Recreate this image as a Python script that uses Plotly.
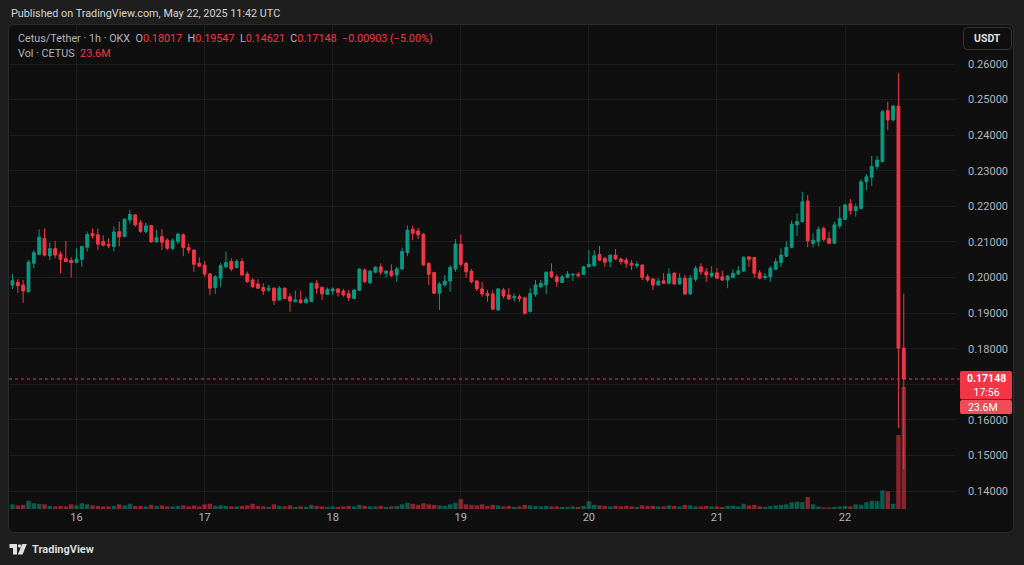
import plotly.graph_objects as go
import pandas as pd

# ---------------- data ----------------
start_time = "2025-05-15 12:00"
opens = [
    0.1979, 0.1987, 0.1979, 0.1960, 0.2040, 0.2065, 0.2110, 0.2061, 0.2081, 0.2066,
    0.2053, 0.2048, 0.2042, 0.2051, 0.2085, 0.2124, 0.2120, 0.2101, 0.2093, 0.2087,
    0.2129, 0.2115, 0.2162, 0.2176, 0.2154, 0.2129, 0.2146, 0.2100, 0.2115, 0.2105,
    0.2082, 0.2101, 0.2120, 0.2084, 0.2077, 0.2040, 0.2035, 0.2010, 0.1972, 0.1998,
    0.2030, 0.2045, 0.2028, 0.2045, 0.2010, 0.1993, 0.1982, 0.1972, 0.1965, 0.1970,
    0.1937, 0.1970, 0.1946, 0.1932, 0.1937, 0.1929, 0.1932, 0.1984, 0.1972, 0.1953,
    0.1962, 0.1968, 0.1962, 0.1955, 0.1941, 0.1964, 0.2021, 0.1985, 0.2015, 0.2030,
    0.2012, 0.2018, 0.2007, 0.2024, 0.2070, 0.2136, 0.2131, 0.2122, 0.2040, 0.2014,
    0.1956, 0.1979, 0.1990, 0.2024, 0.2094, 0.2040, 0.2018, 0.1990, 0.1968, 0.1955,
    0.1954, 0.1909, 0.1965, 0.1951, 0.1943, 0.1946, 0.1943, 0.1904, 0.1953, 0.1974,
    0.1979, 0.2016, 0.2002, 0.1986, 0.2000, 0.2007, 0.2009, 0.2009, 0.2030, 0.2033,
    0.2065, 0.2054, 0.2045, 0.2063, 0.2052, 0.2049, 0.2040, 0.2033, 0.2035, 0.2002,
    0.1996, 0.1979, 0.1991, 0.1984, 0.2012, 0.1982, 0.1998, 0.1954, 0.1995, 0.2030,
    0.2016, 0.2004, 0.2013, 0.2002, 0.1993, 0.2000, 0.2010, 0.2018, 0.2058, 0.2056,
    0.2013, 0.2000, 0.2002, 0.2023, 0.2042, 0.2060, 0.2085, 0.2148, 0.2157, 0.2215,
    0.2096, 0.2101, 0.2138, 0.2110, 0.2096, 0.2145, 0.2163, 0.2207, 0.2188, 0.2194,
    0.2269, 0.2282, 0.2312, 0.2326, 0.2469, 0.2443, 0.2482, 0.18017,
]
highs = [
    0.2010, 0.1995, 0.1993, 0.2049, 0.2077, 0.2135, 0.2138, 0.2098, 0.2103, 0.2073,
    0.2103, 0.2057, 0.2082, 0.2089, 0.2129, 0.2138, 0.2138, 0.2119, 0.2110, 0.2143,
    0.2157, 0.2166, 0.2190, 0.2179, 0.2162, 0.2154, 0.2148, 0.2134, 0.2136, 0.2110,
    0.2110, 0.2126, 0.2124, 0.2096, 0.2079, 0.2057, 0.2046, 0.2012, 0.2007, 0.2040,
    0.2073, 0.2054, 0.2051, 0.2054, 0.2017, 0.1998, 0.1995, 0.1984, 0.1979, 0.1972,
    0.1976, 0.1972, 0.1956, 0.1963, 0.1963, 0.1946, 0.1985, 0.1993, 0.1976, 0.1972,
    0.1972, 0.1971, 0.1968, 0.1965, 0.1968, 0.2026, 0.2026, 0.2021, 0.2032, 0.2040,
    0.2021, 0.2037, 0.2030, 0.2084, 0.2146, 0.2146, 0.2140, 0.2124, 0.2042, 0.2016,
    0.1988, 0.2007, 0.2035, 0.2108, 0.2121, 0.2044, 0.2024, 0.1993, 0.1988, 0.1965,
    0.1965, 0.1970, 0.1971, 0.1970, 0.1955, 0.1953, 0.1946, 0.1970, 0.1993, 0.1993,
    0.2016, 0.2040, 0.2009, 0.2007, 0.2018, 0.2012, 0.2015, 0.2033, 0.2077, 0.2077,
    0.2089, 0.2058, 0.2065, 0.2080, 0.2056, 0.2056, 0.2049, 0.2046, 0.2037, 0.2009,
    0.1998, 0.1998, 0.2012, 0.2026, 0.2016, 0.2012, 0.2007, 0.2007, 0.2032, 0.2040,
    0.2026, 0.2032, 0.2026, 0.2019, 0.2007, 0.2023, 0.2032, 0.2060, 0.2060, 0.2058,
    0.2021, 0.2012, 0.2032, 0.2054, 0.2082, 0.2101, 0.2160, 0.2180, 0.2241, 0.2232,
    0.2124, 0.2143, 0.2143, 0.2129, 0.2157, 0.2199, 0.2208, 0.2220, 0.2208, 0.2276,
    0.2291, 0.2342, 0.2342, 0.2471, 0.2494, 0.2485, 0.2575, 0.19547,
]
lows = [
    0.1967, 0.1957, 0.1929, 0.1958, 0.2026, 0.2063, 0.2059, 0.2049, 0.2054, 0.2012,
    0.2044, 0.2000, 0.2040, 0.2030, 0.2073, 0.2110, 0.2077, 0.2087, 0.2082, 0.2073,
    0.2087, 0.2113, 0.2152, 0.2143, 0.2126, 0.2124, 0.2098, 0.2098, 0.2077, 0.2077,
    0.2077, 0.2094, 0.2060, 0.2068, 0.2016, 0.2030, 0.2002, 0.1951, 0.1954, 0.1974,
    0.2026, 0.2018, 0.2026, 0.2004, 0.1985, 0.1970, 0.1967, 0.1951, 0.1960, 0.1923,
    0.1935, 0.1939, 0.1904, 0.1930, 0.1927, 0.1927, 0.1931, 0.1954, 0.1937, 0.1951,
    0.1951, 0.1946, 0.1946, 0.1934, 0.1940, 0.1962, 0.1984, 0.1982, 0.2012, 0.2007,
    0.2000, 0.2002, 0.1988, 0.2021, 0.2060, 0.2105, 0.2108, 0.2033, 0.1979, 0.1953,
    0.1909, 0.1974, 0.1960, 0.2016, 0.2030, 0.1999, 0.1984, 0.1962, 0.1946, 0.1932,
    0.1909, 0.1906, 0.1941, 0.1937, 0.1932, 0.1932, 0.1896, 0.1902, 0.1946, 0.1970,
    0.1953, 0.1998, 0.1974, 0.1984, 0.1998, 0.1990, 0.2000, 0.2007, 0.2029, 0.2030,
    0.2046, 0.2030, 0.2028, 0.2049, 0.2037, 0.2028, 0.2021, 0.2026, 0.1993, 0.1988,
    0.1965, 0.1977, 0.1982, 0.1982, 0.1979, 0.1979, 0.1951, 0.1951, 0.1988, 0.2007,
    0.1988, 0.2000, 0.1995, 0.1991, 0.1970, 0.1998, 0.2007, 0.2016, 0.2030, 0.2000,
    0.1995, 0.1993, 0.1988, 0.2021, 0.2030, 0.2058, 0.2082, 0.2117, 0.2154, 0.2085,
    0.2085, 0.2087, 0.2101, 0.2094, 0.2094, 0.2138, 0.2162, 0.2176, 0.2171, 0.2192,
    0.2246, 0.2257, 0.2304, 0.2323, 0.2415, 0.2438, 0.1577, 0.14621,
]
closes = [
    0.1991, 0.1977, 0.1962, 0.2043, 0.2070, 0.2113, 0.2063, 0.2081, 0.2063, 0.2051,
    0.2045, 0.2042, 0.2052, 0.2087, 0.2121, 0.2117, 0.2094, 0.2091, 0.2089, 0.2128,
    0.2114, 0.2164, 0.2177, 0.2148, 0.2129, 0.2145, 0.2100, 0.2112, 0.2099, 0.2082,
    0.2103, 0.2122, 0.2084, 0.2077, 0.2037, 0.2032, 0.2010, 0.1970, 0.2002, 0.2033,
    0.2042, 0.2024, 0.2045, 0.2007, 0.1988, 0.1974, 0.1970, 0.1962, 0.1970, 0.1935,
    0.1970, 0.1941, 0.1934, 0.1937, 0.1929, 0.1939, 0.1984, 0.1970, 0.1954, 0.1967,
    0.1968, 0.1958, 0.1951, 0.1943, 0.1965, 0.2024, 0.1988, 0.2018, 0.2029, 0.2015,
    0.2018, 0.2005, 0.2024, 0.2073, 0.2133, 0.2124, 0.2120, 0.2035, 0.2009, 0.1956,
    0.1982, 0.1990, 0.2028, 0.2094, 0.2037, 0.2016, 0.1988, 0.1968, 0.1954, 0.1949,
    0.1911, 0.1968, 0.1948, 0.1940, 0.1946, 0.1941, 0.1899, 0.1955, 0.1979, 0.1984,
    0.2015, 0.2002, 0.1988, 0.2002, 0.2010, 0.2009, 0.2005, 0.2030, 0.2037, 0.2061,
    0.2049, 0.2043, 0.2063, 0.2052, 0.2045, 0.2040, 0.2035, 0.2037, 0.2000, 0.1993,
    0.1979, 0.1990, 0.1984, 0.2010, 0.1982, 0.1998, 0.1954, 0.1998, 0.2026, 0.2016,
    0.2007, 0.2012, 0.1998, 0.1993, 0.2004, 0.2012, 0.2019, 0.2057, 0.2051, 0.2012,
    0.1998, 0.2004, 0.2026, 0.2044, 0.2063, 0.2085, 0.2150, 0.2157, 0.2213, 0.2103,
    0.2105, 0.2135, 0.2107, 0.2096, 0.2148, 0.2166, 0.2204, 0.2188, 0.2199, 0.2269,
    0.2283, 0.2312, 0.2330, 0.2466, 0.2443, 0.2482, 0.18017, 0.17148,
]
volume_m = [
    0.9, 0.7, 0.8, 1.6, 1.1, 1.0, 0.9, 0.6, 0.5, 0.6, 0.5, 0.9,
    0.7, 1.1, 0.9, 0.7, 0.6, 0.5, 0.5, 0.6, 0.9, 0.7, 1.0, 0.6,
    0.6, 0.5, 0.8, 0.6, 0.7, 0.5, 0.5, 0.6, 0.7, 0.5, 0.7, 0.5,
    0.9, 1.0, 0.6, 0.7, 0.6, 0.5, 0.5, 0.6, 0.7, 1.0, 0.6, 0.5,
    0.4, 0.9, 0.6, 0.5, 0.7, 0.4, 0.5, 0.4, 0.8, 0.6, 0.5, 0.4,
    0.5, 0.4, 0.5, 0.6, 0.5, 0.8, 0.6, 0.5, 0.5, 0.6, 0.4, 0.5,
    0.6, 0.9, 1.2, 1.0, 0.8, 1.1, 0.9, 0.8, 0.7, 0.6, 0.9, 1.2,
    1.9, 0.9, 0.8, 0.7, 0.9, 0.6, 0.8, 0.7, 0.5, 0.6, 0.4, 0.5,
    0.8, 0.7, 0.6, 0.5, 0.6, 0.5, 0.5, 0.4, 0.4, 0.5, 0.4, 0.6,
    1.5, 0.8, 0.7, 0.6, 0.5, 0.6, 0.5, 0.6, 0.5, 0.4, 0.7, 0.6,
    0.6, 0.5, 0.5, 0.7, 0.6, 0.5, 0.8, 0.7, 0.5, 0.5, 0.6, 0.5,
    0.5, 0.4, 0.6, 0.6, 0.5, 1.0, 0.7, 0.8, 0.5, 0.4, 0.6, 0.7,
    0.8, 0.9, 1.3, 1.4, 1.3, 2.3, 0.9, 0.5, 0.3, 0.3, 0.4, 0.5,
    0.6, 0.5, 0.9, 0.8, 1.3, 1.6, 1.5, 3.6, 3.4, 1.0, 14.3, 23.6,
]
# 0.17000 is hidden behind the last-price label in the reference, so its text is blank
price_ticks = [0.14, 0.15, 0.16, 0.17, 0.18, 0.19, 0.20, 0.21, 0.22, 0.23, 0.24, 0.25, 0.26]
price_tick_labels = ["0.14000", "0.15000", "0.16000", "", "0.18000", "0.19000", "0.20000",
                     "0.21000", "0.22000", "0.23000", "0.24000", "0.25000", "0.26000"]
day_ticks = ["2025-05-16", "2025-05-17", "2025-05-18", "2025-05-19", "2025-05-20", "2025-05-21", "2025-05-22"]
day_labels = ["16", "17", "18", "19", "20", "21", "22"]
last_price = 0.17148
last_price_label = "0.17148"
countdown_label = "17:56"
last_volume_label = "23.6M"
header_text = "Published on TradingView.com, May 22, 2025 11:42 UTC"

# ---------------- styling ----------------
W, H = 1024, 565
GREEN = "#089981"
RED = "#f23645"
VGREEN = "rgba(8,153,129,0.55)"
VRED = "rgba(242,54,69,0.55)"
OUTER = "#1e1e1e"
PANEL = "#0f0f0f"
GRID = "#1d1d1d"
TXT = "#b2b5be"
FONT = "Roboto"


def px(x):
    return x / W


def py(y):
    return 1 - y / H


def rrect(x0, y0, x1, y1, r):
    X0, X1 = px(x0), px(x1)
    Y0, Y1 = py(y0), py(y1)
    rx, ry = r / W, r / H
    return (f"M{X0+rx},{Y0} L{X1-rx},{Y0} Q{X1},{Y0} {X1},{Y0-ry} "
            f"L{X1},{Y1+ry} Q{X1},{Y1} {X1-rx},{Y1} L{X0+rx},{Y1} "
            f"Q{X0},{Y1} {X0},{Y1+ry} L{X0},{Y0-ry} Q{X0},{Y0} {X0+rx},{Y0} Z")


def poly(points):
    return "M" + " L".join(f"{px(a)},{py(b)}" for a, b in points) + " Z"


times = pd.date_range(start_time, periods=len(closes), freq="h")
vol_colors = [VGREEN if c >= o else VRED for o, c in zip(opens, closes)]

fig = go.Figure()
fig.add_trace(go.Bar(
    x=times, y=volume_m, yaxis="y2", marker=dict(color=vol_colors, line=dict(width=0)),
    width=0.82 * 3600 * 1000, hoverinfo="skip", showlegend=False,
))
fig.add_trace(go.Candlestick(
    x=times, open=opens, high=highs, low=lows, close=closes,
    increasing=dict(line=dict(color=GREEN, width=1), fillcolor=GREEN),
    decreasing=dict(line=dict(color=RED, width=1), fillcolor=RED),
    whiskerwidth=0, showlegend=False,
))

t0 = pd.Timestamp(start_time)
x_range = [t0 - pd.Timedelta(hours=0.65), t0 + pd.Timedelta(hours=176.6)]

fig.update_layout(
    width=W, height=H,
    margin=dict(l=0, r=0, t=0, b=0),
    paper_bgcolor=OUTER, plot_bgcolor="rgba(0,0,0,0)",
    font=dict(family=FONT, color=TXT),
    showlegend=False, boxgap=0.25,
    xaxis=dict(
        domain=[px(9), px(955)], range=x_range, type="date",
        tickvals=day_ticks, ticktext=day_labels,
        showgrid=True, gridcolor=GRID, gridwidth=1,
        zeroline=False, showline=False, ticks="",
        tickfont=dict(size=11, color=TXT, family=FONT),
        rangeslider=dict(visible=False), fixedrange=True,
    ),
    yaxis=dict(
        domain=[py(509), py(26)], range=[0.13494, 0.27069], side="right",
        tickvals=price_ticks, ticktext=price_tick_labels,
        showgrid=True, gridcolor=GRID, gridwidth=1,
        zeroline=False, showline=False, ticks="",
        tickfont=dict(size=11, color=TXT, family=FONT),
        ticklabelstandoff=12,
    ),
    yaxis2=dict(
        overlaying="y", range=[0, 93.4], visible=False, showgrid=False,
    ),
)

shapes = [
    dict(type="path", xref="paper", yref="paper", path=rrect(8.5, 24.5, 1013.5, 532.5, 6),
         fillcolor=PANEL, line=dict(color="#2b2b2b", width=1), layer="below"),
    dict(type="line", xref="paper", yref="y", x0=px(9), x1=px(960), y0=last_price, y1=last_price,
         line=dict(color=RED, width=1, dash="dot"), layer="above"),
    dict(type="path", xref="paper", yref="paper", path=rrect(963.5, 27.5, 1011.5, 49.5, 4),
         fillcolor="rgba(0,0,0,0)", line=dict(color="#363636", width=1)),
    dict(type="path", xref="paper", yref="paper", path=rrect(960, 371, 1012, 399.5, 2),
         fillcolor=RED, line=dict(width=0), layer="above"),
    dict(type="path", xref="paper", yref="paper", path=rrect(960, 400, 1012, 414, 2),
         fillcolor="#ee4d57", line=dict(width=0), layer="above"),
    # TradingView logo
    dict(type="path", xref="paper", yref="paper",
         path=poly([(9.5, 544), (17, 544), (17, 554.5), (13, 554.5), (13, 548), (9.5, 548)]),
         fillcolor="#e0e0e0", line=dict(width=0)),
    dict(type="circle", xref="paper", yref="paper", x0=px(17.8), x1=px(21.2), y0=py(547.6), y1=py(544.2),
         fillcolor="#e0e0e0", line=dict(width=0)),
    dict(type="path", xref="paper", yref="paper",
         path=poly([(22.2, 544), (26.8, 544), (22.6, 554.5), (17.8, 554.5)]),
         fillcolor="#e0e0e0", line=dict(width=0)),
]
fig.update_layout(shapes=shapes)

g = TXT
r = RED
legend1 = (f"<span style='color:{g}'>Cetus/Tether · 1h · OKX</span>&nbsp; "
           f"<span style='color:{g}'>O</span><span style='color:{r}'>0.18017</span>&nbsp; "
           f"<span style='color:{g}'>H</span><span style='color:{r}'>0.19547</span>&nbsp; "
           f"<span style='color:{g}'>L</span><span style='color:{r}'>0.14621</span>&nbsp; "
           f"<span style='color:{g}'>C</span><span style='color:{r}'>0.17148</span>&nbsp; "
           f"<span style='color:{r}'>−0.00903 (−5.00%)</span>")
legend2 = f"<span style='color:{g}'>Vol · CETUS</span>&nbsp; <span style='color:{r}'>{last_volume_label}</span>"

ann = [
    dict(text=header_text, x=px(9), y=py(13.5), xanchor="left", yanchor="middle",
         font=dict(size=10.8, color="#d6d6d6", family=FONT)),
    dict(text=legend1, x=px(16), y=py(38.5), xanchor="left", yanchor="middle",
         font=dict(size=10.8, color=g, family=FONT)),
    dict(text=legend2, x=px(16), y=py(53.5), xanchor="left", yanchor="middle",
         font=dict(size=10.8, color=g, family=FONT)),
    dict(text="<b>USDT</b>", x=px(987.5), y=py(38.5), xanchor="center", yanchor="middle",
         font=dict(size=10.5, color="#e0e0e0", family=FONT)),
    dict(text="<b>" + last_price_label + "</b><br>" + countdown_label, x=px(986), y=py(385.5),
         xanchor="center", yanchor="middle", borderpad=0,
         font=dict(size=10.5, color="#ffffff", family=FONT)),
    dict(text=last_volume_label, x=px(983), y=py(407.5), xanchor="center", yanchor="middle", borderpad=0,
         font=dict(size=10.5, color="#ffffff", family=FONT)),
    dict(text="<b>TradingView</b>", x=px(29.5), y=py(549.5), xanchor="left", yanchor="middle",
         font=dict(size=11, color="#dcdcdc", family=FONT)),
]
for a in ann:
    a.update(xref="paper", yref="paper", showarrow=False)
fig.update_layout(annotations=ann)

fig.write_html(
    "out.html",
    config={"displayModeBar": False},
    post_script="document.body.style.margin='0';document.body.style.background='#1e1e1e';",
)
